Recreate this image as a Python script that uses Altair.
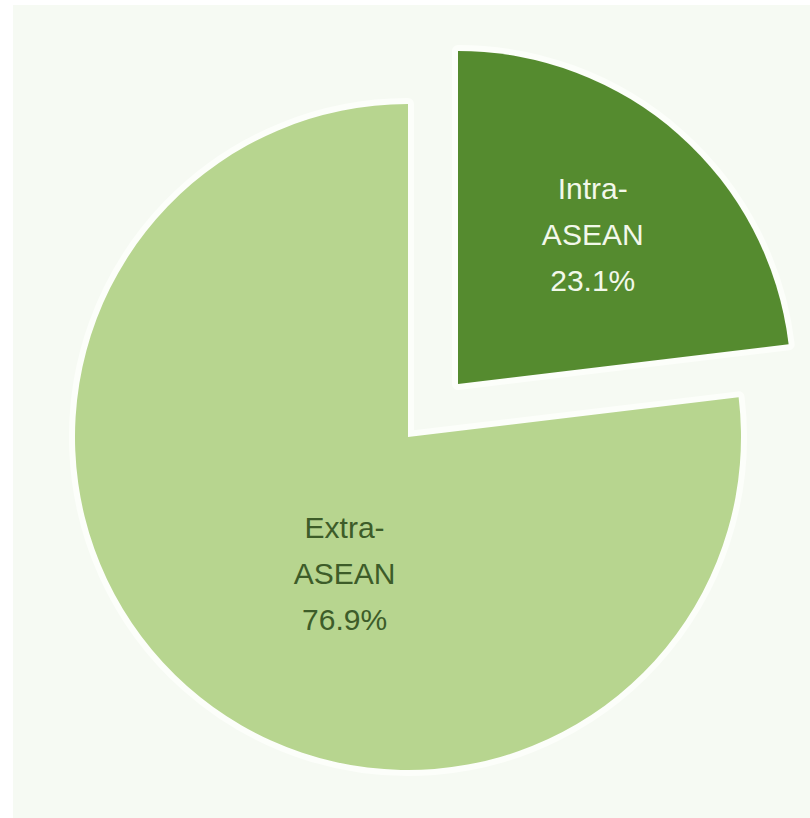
import math
import altair as alt
import pandas as pd

# ---- data ----
categories = ["Intra-ASEAN", "Extra-ASEAN"]
shares = [23.1, 76.9]
label_lines = [["Intra-", "ASEAN", "23.1%"], ["Extra-", "ASEAN", "76.9%"]]
slice_order = [0, 1]

df = pd.DataFrame({
    "category": categories,
    "share": shares,
    "label": ["\n".join(l) for l in label_lines],
    "order": slice_order,
})

R = 333
theta_scale = alt.Scale(domain=[0, 100], range=[0, 2 * math.pi])

base = alt.Chart(df).transform_window(
    end="sum(share)", sort=[alt.SortField("order")], frame=[None, 0]
).transform_calculate(
    start="datum.end - datum.share",
    mid="datum.end - datum.share / 2",
)


def slice_layers(cat, cx, cy, fill, text_color, r_text, dx, dy):
    b = base.transform_filter(alt.datum.category == cat)
    enc = dict(
        theta=alt.Theta("start:Q", scale=theta_scale),
        theta2="end:Q",
        x=alt.value(cx),
        y=alt.value(cy),
    )
    halo = b.mark_arc(radius=R, fill="#fcfefa", stroke="#fcfefa",
                      strokeWidth=12, strokeJoin="round").encode(**enc)
    arc = b.mark_arc(radius=R, fill=fill).encode(**enc)
    text = b.mark_text(
        radius=r_text, dx=dx, dy=dy, font="Liberation Sans", fontSize=30,
        lineHeight=46, lineBreak="\n", align="center", baseline="middle",
        color=text_color,
    ).encode(
        theta=alt.Theta("mid:Q", scale=theta_scale),
        text="label:N",
        x=alt.value(cx),
        y=alt.value(cy),
    )
    return halo, arc, text


h1, a1, t1 = slice_layers("Intra-ASEAN", 458, 384, "#558b2f", "#f2f8ea", 200, 2, -44)
h2, a2, t2 = slice_layers("Extra-ASEAN", 408, 437, "#b7d58f", "#3d5c29", 183, 58, -45)

panel = alt.Chart(df).mark_rect(color="#f6faf3").encode(
    x=alt.value(13), x2=alt.value(810), y=alt.value(5), y2=alt.value(818)
)

chart = alt.layer(panel, h2, h1, a2, a1, t2, t1).properties(
    width=810, height=818, padding=0,
    autosize=alt.AutoSizeParams(type="none"),
    background="white",
).configure_view(stroke=None)

chart.save("out.html", embed_options={"renderer": "svg", "actions": False})
